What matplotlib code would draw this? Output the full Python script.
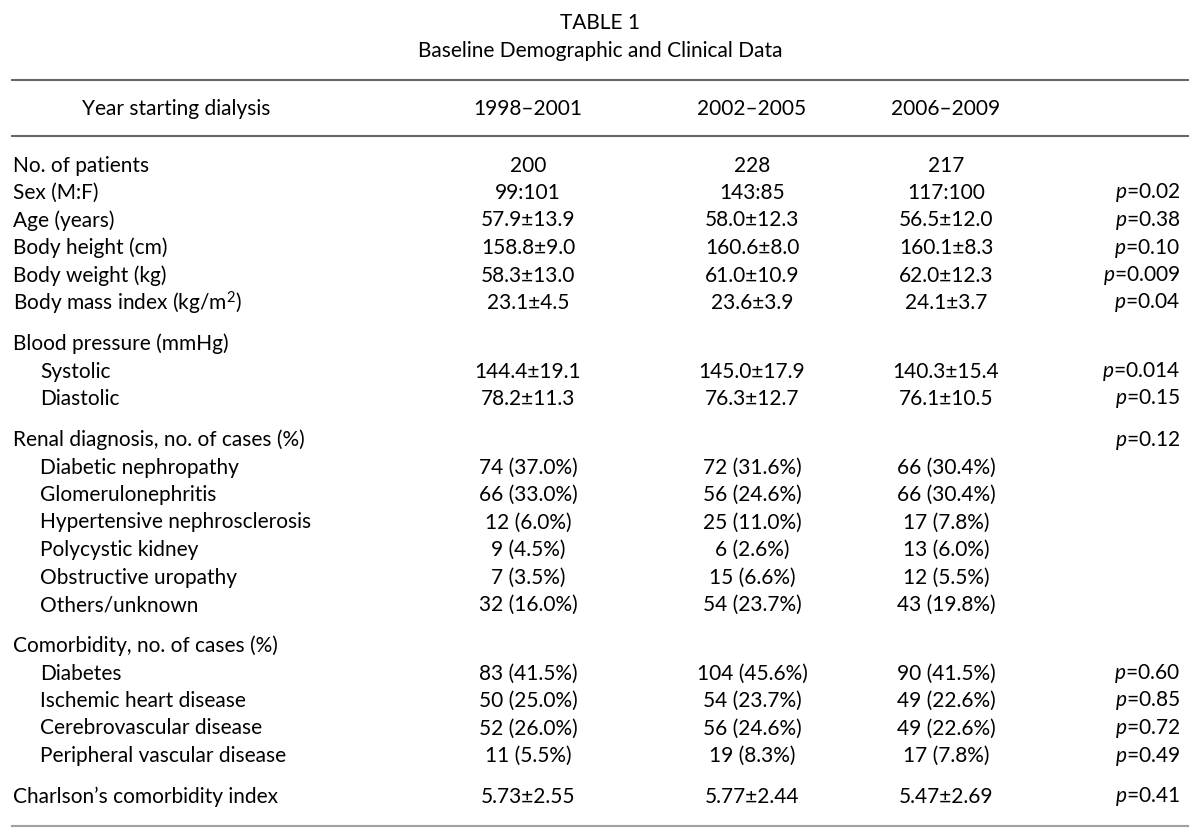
import matplotlib.pyplot as plt

plt.rcParams['font.family'] = ['Lato', 'DejaVu Sans']
plt.rcParams['mathtext.fontset'] = 'custom'
plt.rcParams['mathtext.rm'] = 'Lato'
plt.rcParams['mathtext.it'] = 'Lato:italic'

title = "TABLE 1"
subtitle = "Baseline Demographic and Clinical Data"
header = ["Year starting dialysis", "1998\u20132001", "2002\u20132005", "2006\u20132009"]

# each group: list of (label, indent, col1, col2, col3, p)
groups = [
    [
        ("No. of patients", False, "200", "228", "217", ""),
        ("Sex (M:F)", False, "99:101", "143:85", "117:100", "0.02"),
        ("Age (years)", False, "57.9\u00b113.9", "58.0\u00b112.3", "56.5\u00b112.0", "0.38"),
        ("Body height (cm)", False, "158.8\u00b19.0", "160.6\u00b18.0", "160.1\u00b18.3", "0.10"),
        ("Body weight (kg)", False, "58.3\u00b113.0", "61.0\u00b110.9", "62.0\u00b112.3", "0.009"),
        ("Body mass index (kg/m$^\\mathrm{2}$)", False, "23.1\u00b14.5", "23.6\u00b13.9", "24.1\u00b13.7", "0.04"),
    ],
    [
        ("Blood pressure (mmHg)", False, "", "", "", ""),
        ("Systolic", True, "144.4\u00b119.1", "145.0\u00b117.9", "140.3\u00b115.4", "0.014"),
        ("Diastolic", True, "78.2\u00b111.3", "76.3\u00b112.7", "76.1\u00b110.5", "0.15"),
    ],
    [
        ("Renal diagnosis, no. of cases (%)", False, "", "", "", "0.12"),
        ("Diabetic nephropathy", True, "74 (37.0%)", "72 (31.6%)", "66 (30.4%)", ""),
        ("Glomerulonephritis", True, "66 (33.0%)", "56 (24.6%)", "66 (30.4%)", ""),
        ("Hypertensive nephrosclerosis", True, "12 (6.0%)", "25 (11.0%)", "17 (7.8%)", ""),
        ("Polycystic kidney", True, "9 (4.5%)", "6 (2.6%)", "13 (6.0%)", ""),
        ("Obstructive uropathy", True, "7 (3.5%)", "15 (6.6%)", "12 (5.5%)", ""),
        ("Others/unknown", True, "32 (16.0%)", "54 (23.7%)", "43 (19.8%)", ""),
    ],
    [
        ("Comorbidity, no. of cases (%)", False, "", "", "", ""),
        ("Diabetes", True, "83 (41.5%)", "104 (45.6%)", "90 (41.5%)", "0.60"),
        ("Ischemic heart disease", True, "50 (25.0%)", "54 (23.7%)", "49 (22.6%)", "0.85"),
        ("Cerebrovascular disease", True, "52 (26.0%)", "56 (24.6%)", "49 (22.6%)", "0.72"),
        ("Peripheral vascular disease", True, "11 (5.5%)", "19 (8.3%)", "17 (7.8%)", "0.49"),
    ],
    [
        ("Charlson\u2019s comorbidity index", False, "5.73\u00b12.55", "5.77\u00b12.44", "5.47\u00b12.69", "0.41"),
    ],
]

W, H = 1200, 839
fig = plt.figure(figsize=(W / 100, H / 100), dpi=100)
ax = fig.add_axes([0, 0, 1, 1])
ax.set_xlim(0, W)
ax.set_ylim(H, 0)
ax.axis('off')

fs = 15
col_x = [528, 752, 946]
x_left, x_indent, x_p = 13, 40, 1180

ax.text(W / 2, 23, title, ha='center', va='center', fontsize=fs)
ax.text(W / 2, 51, subtitle, ha='center', va='center', fontsize=fs)

ax.plot([12, 1188], [80, 80], color='#666666', lw=1.5)
ax.plot([12, 1188], [136, 136], color='#666666', lw=1.5)

ax.text(82, 109, header[0], ha='left', va='center', fontsize=fs)
for cx, h in zip(col_x, header[1:]):
    ax.text(cx, 109, h, ha='center', va='center', fontsize=fs)

row_h = 27.5
gap = 13.5
y = 165.5
for g in groups:
    for label, indent, c1, c2, c3, p in g:
        ax.text(x_indent if indent else x_left, y, label, ha='left', va='center', fontsize=fs)
        for cx, v in zip(col_x, (c1, c2, c3)):
            if v:
                ax.text(cx, y, v, ha='center', va='center', fontsize=fs)
        if p:
            ax.text(x_p, y, "$p$=" + p, ha='right', va='center', fontsize=fs)
        y += row_h
    y += gap

ax.plot([12, 1188], [826, 826], color='#a0a0a0', lw=1.5)

fig.savefig('out.png', dpi=100, facecolor='white')
